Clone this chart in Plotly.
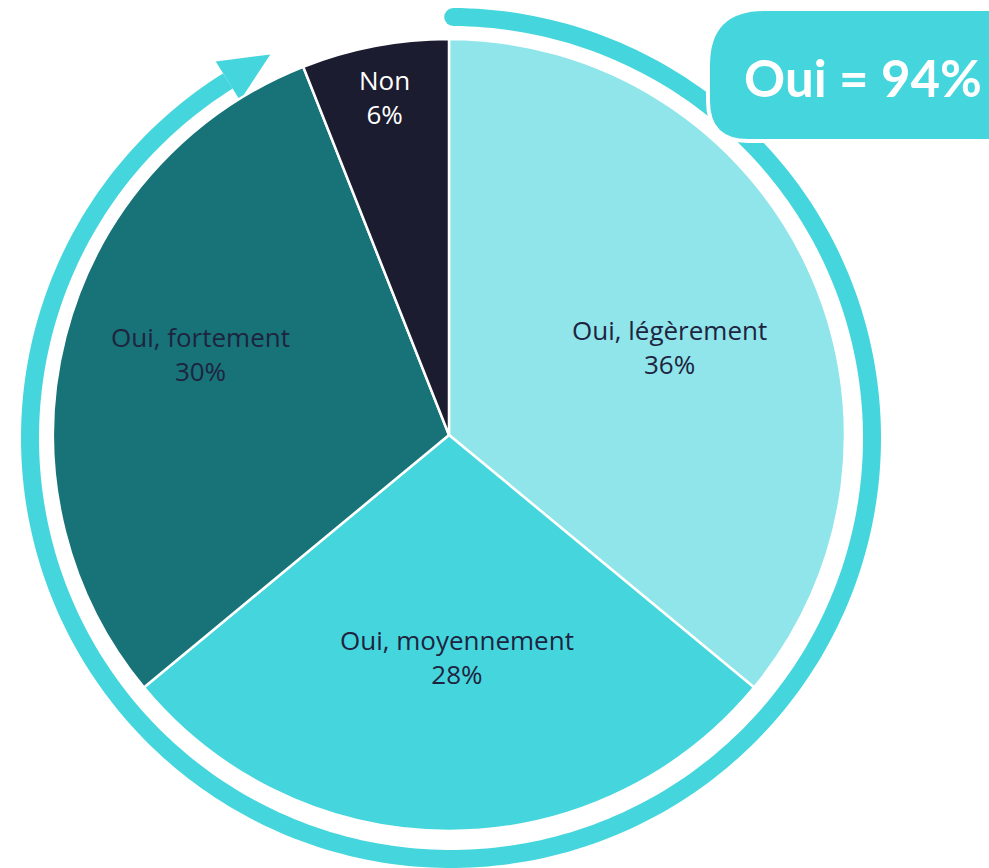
import math
import plotly.graph_objects as go

# ---- data ----
categories = ["Oui, légèrement", "Oui, moyennement", "Oui, fortement", "Non"]
values = [36, 28, 30, 6]
slice_colors = ["#8FE5E9", "#45D6DD", "#177378", "#1C1C30"]
text_colors = ["#1E2440", "#1E2440", "#1E2440", "#FFFFFF"]
badge_text = "Oui = 94%"

W, H = 989, 868
ACCENT = "#45D6DD"

# pie geometry (pixels)
pcx, pcy, pr = 449, 435, 396

fig = go.Figure()

fig.add_trace(go.Pie(
    labels=categories,
    values=values,
    sort=False,
    direction="clockwise",
    rotation=0,
    marker=dict(colors=slice_colors, line=dict(color="white", width=2.5)),
    textinfo="none",
    hoverinfo="label+percent",
    showlegend=False,
    domain=dict(x=[(pcx - pr) / W, (pcx + pr) / W],
                y=[(H - pcy - pr) / H, (H - pcy + pr) / H]),
))

# ---- slice labels, placed along each slice's mid-angle ----
label_radius = [0.60, 0.56, 0.66, 0.87]   # fraction of pie radius
label_nudge = [3.5, -2.0, 3.6, 0.0]        # degrees
total = sum(values)
annotations = []
cum = 0.0
for cat, v, col, rf, nd in zip(categories, values, text_colors, label_radius, label_nudge):
    mid = (cum + v / 2) / total * 360 + nd
    cum += v
    a = math.radians(mid)
    lx = pcx + rf * pr * math.sin(a)
    ly = pcy - rf * pr * math.cos(a)
    annotations.append(dict(text=f"{cat}<br>{round(v / total * 100)}%", x=lx, y=ly,
                            xref="x", yref="y", showarrow=False,
                            xanchor="center", yanchor="middle",
                            font=dict(family="Open Sans", size=26, color=col)))

# ---- decorative ring with arrow ----
rcx, rcy, rr = 451, 438, 421
t0, t1 = 0.3, 328.0
pts = []
n = 300
for i in range(n + 1):
    t = math.radians(t0 + (t1 - t0) * i / n)
    pts.append((rcx + rr * math.sin(t), rcy - rr * math.cos(t)))
ring_path = "M " + " L ".join(f"{x:.2f},{y:.2f}" for x, y in pts)

shapes = [dict(type="path", path=ring_path, xref="x", yref="y",
               line=dict(color=ACCENT, width=18), layer="below")]

# rounded start cap
sx, sy = pts[0]
shapes.append(dict(type="circle", xref="x", yref="y",
                   x0=sx - 9, x1=sx + 9, y0=sy - 9, y1=sy + 9,
                   fillcolor=ACCENT, line=dict(width=0), layer="below"))

# arrow head at end
te = math.radians(t1)
bx, by = rcx + rr * math.sin(te), rcy - rr * math.cos(te)
tx, ty = math.cos(te), math.sin(te)        # tangent (clockwise direction)
nx, ny = math.sin(te), -math.cos(te)       # outward normal
hw, hl = 23, 50
p1 = (bx + nx * hw, by + ny * hw)
p2 = (bx - nx * hw, by - ny * hw)
p3 = (bx + tx * hl, by + ty * hl)
shapes.append(dict(type="path", xref="x", yref="y",
                   path=f"M {p1[0]:.1f},{p1[1]:.1f} L {p3[0]:.1f},{p3[1]:.1f} L {p2[0]:.1f},{p2[1]:.1f} Z",
                   fillcolor=ACCENT, line=dict(width=0), layer="below"))

# badge box
bx0, by0, bx1, by1, rad = 708, 9, 1010, 141, 56
badge = (f"M {bx0 + rad},{by0} L {bx1},{by0} L {bx1},{by1} L {bx0 + 40},{by1} "
         f"Q {bx0},{by1} {bx0},{by1 - 40} L {bx0},{by0 + rad} "
         f"Q {bx0},{by0} {bx0 + rad},{by0} Z")
shapes.append(dict(type="path", xref="x", yref="y", path=badge,
                   fillcolor=ACCENT, line=dict(color="white", width=4), layer="above"))

annotations.append(dict(text=f"<b>{badge_text}</b>", x=863, y=77, xref="x", yref="y",
                        showarrow=False, xanchor="center", yanchor="middle",
                        font=dict(family="Lato", size=51, color="white")))

fig.update_layout(
    width=W, height=H,
    margin=dict(l=0, r=0, t=0, b=0),
    paper_bgcolor="white", plot_bgcolor="white",
    xaxis=dict(range=[0, W], visible=False, fixedrange=True, domain=[0, 1]),
    yaxis=dict(range=[H, 0], visible=False, fixedrange=True, domain=[0, 1]),
    shapes=shapes,
    annotations=annotations,
)

fig.write_html("out.html", config={"displayModeBar": False},
               post_script="document.body.style.margin='0';document.body.style.overflow='hidden';")
